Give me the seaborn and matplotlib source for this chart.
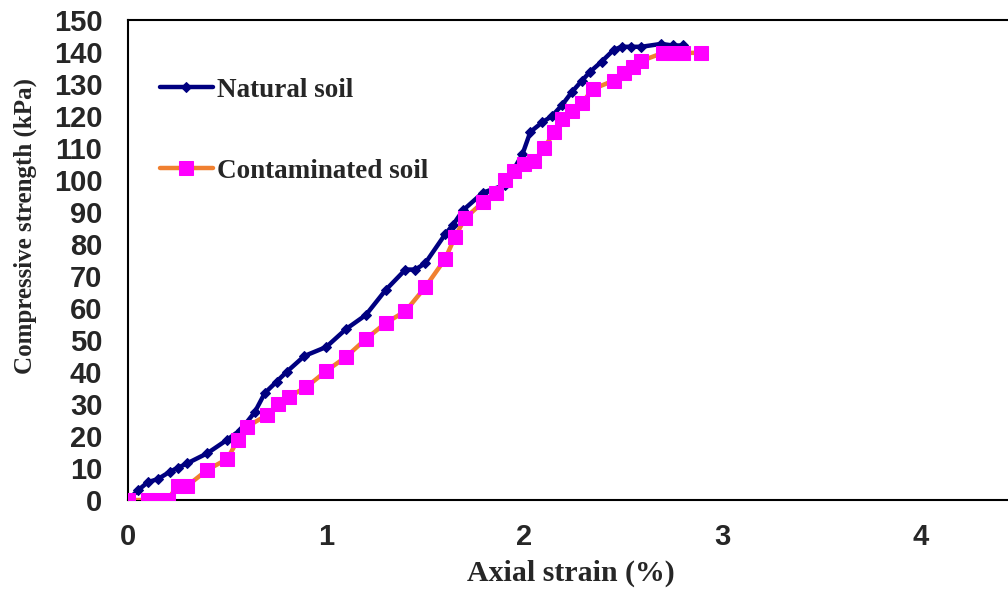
import matplotlib
matplotlib.use("Agg")
import matplotlib.pyplot as plt
import seaborn as sns
import pandas as pd

natural_strain = [0.0, 0.05, 0.10, 0.15, 0.21, 0.25, 0.30, 0.40, 0.50, 0.57, 0.64, 0.69, 0.75,
                  0.80, 0.89, 1.00, 1.10, 1.20, 1.30, 1.40, 1.45, 1.50, 1.60, 1.64, 1.69, 1.79,
                  1.90, 1.99, 2.03, 2.09, 2.14, 2.19, 2.24, 2.29, 2.33, 2.39, 2.45, 2.49, 2.54,
                  2.59, 2.69, 2.75, 2.80]
natural_stress = [0, 3, 5.6, 6.5, 8.8, 10, 11.5, 14.6, 18.8, 22, 27.5, 33.4, 37,
                  40, 45, 47.8, 53.4, 57.8, 65.6, 72, 72, 74, 83, 86, 90.5, 96,
                  98.4, 108, 115, 118, 120, 123.4, 127.5, 131, 133.7, 137, 140.6, 141.6, 141.6,
                  141.6, 142.5, 142, 142]

contam_strain = [0.0, 0.10, 0.15, 0.20, 0.25, 0.30, 0.40, 0.50, 0.555, 0.60, 0.70, 0.757,
                 0.81, 0.90, 1.00, 1.10, 1.20, 1.30, 1.40, 1.50, 1.60, 1.65, 1.70, 1.79,
                 1.855, 1.90, 1.95, 2.00, 2.05, 2.10, 2.15, 2.19, 2.24, 2.29, 2.345, 2.45,
                 2.50, 2.55, 2.59, 2.70, 2.75, 2.80, 2.89]
contam_stress = [0, 0, 0, 0, 4.5, 4.5, 9.4, 12.8, 18.8, 22.9, 26.5, 30,
                 32.2, 35.3, 40.3, 44.7, 50.3, 55.3, 59, 66.5, 75.3, 82.2, 88, 93,
                 96, 100, 102.8, 105, 106, 110, 115, 119, 121.5, 124, 128.4, 131,
                 133.4, 135.3, 137.2, 139.7, 139.7, 139.7, 139.7]

y_ticks = list(range(0, 151, 10))
x_ticks = [0, 1, 2, 3, 4]

df_nat = pd.DataFrame({"strain": natural_strain, "stress": natural_stress})
df_con = pd.DataFrame({"strain": contam_strain, "stress": contam_stress})

sns.set_style("white")
fig = plt.figure(figsize=(10.08, 5.92), dpi=100)
ax = fig.add_axes([0.127, 0.1554, 0.873, 0.811])

sns.lineplot(data=df_nat, x="strain", y="stress", ax=ax, sort=False,
             color="#000080", linewidth=3.2, marker="D", markersize=5.5,
             markeredgecolor="#000080", markerfacecolor="#000080",
             label="Natural soil", zorder=3)
sns.lineplot(data=df_con, x="strain", y="stress", ax=ax, sort=False,
             color="#F08030", linewidth=3.2, marker="s", markersize=9.5,
             markeredgecolor="#FF00FF", markerfacecolor="#FF00FF",
             label="Contaminated soil", zorder=4)

ax.set_xlim(0, 4.44)
ax.set_ylim(0, 150)
ax.set_xticks(x_ticks)
ax.set_yticks(y_ticks)
ax.tick_params(axis="both", direction="out", length=6.5, width=1.2, color="black",
               labelsize=21)
ax.tick_params(axis="y", pad=12)
ax.tick_params(axis="x", pad=10)
for lab in ax.get_xticklabels() + ax.get_yticklabels():
    lab.set_fontfamily("Liberation Sans")
    lab.set_fontweight("bold")

for side in ["left", "bottom", "top"]:
    ax.spines[side].set_color("black")
    ax.spines[side].set_linewidth(1.5)
ax.spines["right"].set_visible(False)

ax.set_xlabel("Axial strain (%)", fontfamily="Liberation Serif", fontweight="bold",
              fontsize=21.5)
ax.xaxis.set_label_coords(0.503, -0.125)
ax.set_ylabel("Compressive strength (kPa)", fontfamily="Liberation Serif",
              fontweight="bold", fontsize=18)
ax.yaxis.set_label_coords(-0.103, 0.571)

leg = ax.legend(loc="upper left", bbox_to_anchor=(0.036, 0.880), frameon=False,
                prop={"family": "Liberation Serif", "weight": "bold", "size": 19.5},
                labelspacing=2.07, handlelength=1.96, handletextpad=0.15, borderpad=0,
                borderaxespad=0)

fig.savefig("out.png", dpi=100)
